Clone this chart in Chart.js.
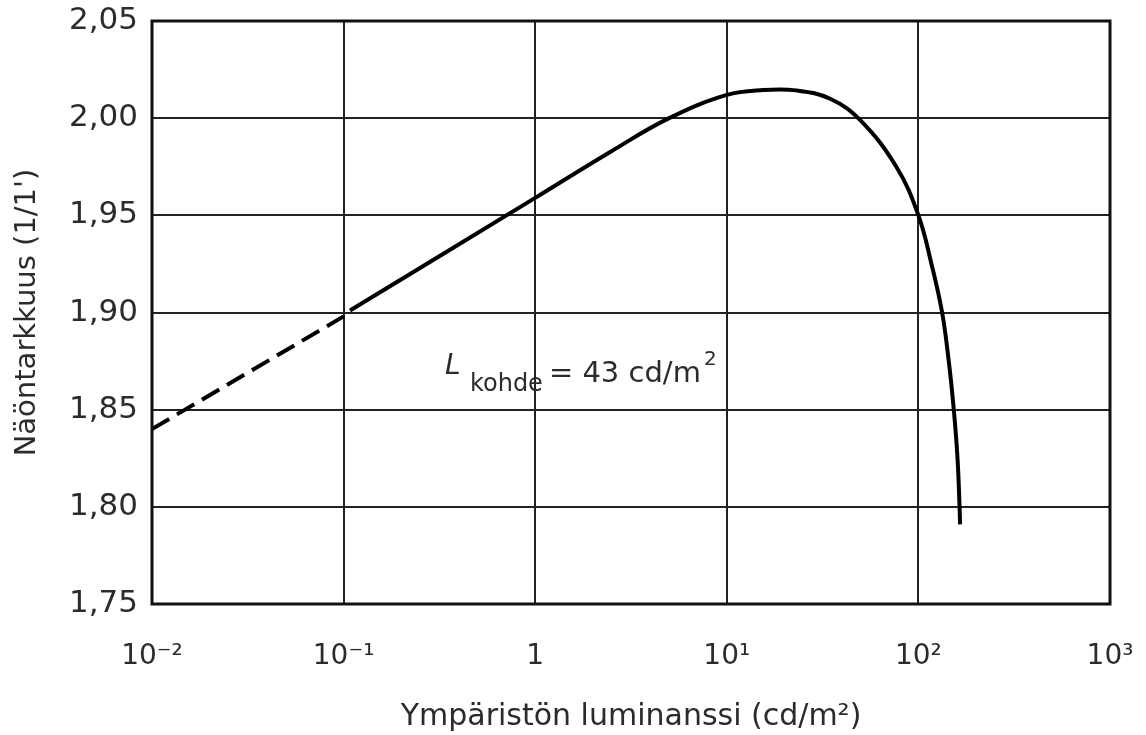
<!DOCTYPE html>
<html>
<head>
<meta charset="utf-8">
<script src="https://cdn.jsdelivr.net/npm/chart.js@4"></script>
<style>
  html, body { margin: 0; padding: 0; background: #fff; }
  #wrap { width: 1146px; height: 735px; }
</style>
</head>
<body>
<div id="wrap"><canvas id="chart" width="1146" height="735"></canvas></div>
<script>
// arvot luettu kuvasta
const dashedX = [0.01, 0.1];
const dashedY = [1.84, 1.898];

const solidX = [0.108, 1, 2.5, 5, 10, 15.5, 23, 34.6, 49.7, 76.7, 100, 117, 133, 144, 153, 160, 164, 165];
const solidY = [1.901, 1.959, 1.983, 2.000, 2.012, 2.0145, 2.0143, 2.010, 1.999, 1.975, 1.95, 1.925, 1.90, 1.875, 1.85, 1.825, 1.80, 1.791];

const xTicks = [0.01, 0.1, 1, 10, 100, 1000];
const xTickLabels = ['10⁻²', '10⁻¹', '1', '10¹', '10²', '10³'];
const yTicks = [1.75, 1.80, 1.85, 1.90, 1.95, 2.00, 2.05];

const yTitle = "Näöntarkkuus (1/1')";
const xTitle = 'Ympäristön luminanssi (cd/m²)';

// L_kohde = 43 cd/m²
const noteParts = ['L', 'kohde', '= 43 cd/m', '2'];
const noteAt = { x: 0.338, y: 1.8682 };

const fontFamily = '"DejaVu Sans", "Liberation Sans", sans-serif';
const textColor = '#2b2b2b';

function pairs(xs, ys) {
    return xs.map((x, i) => ({ x: x, y: ys[i] }));
}

const framePlugin = {
    id: 'frame',
    afterDatasetsDraw(chart) {
        const { ctx, chartArea: a } = chart;
        ctx.save();
        ctx.strokeStyle = '#111';
        ctx.lineWidth = 3;
        ctx.strokeRect(a.left, a.top, a.right - a.left, a.bottom - a.top);
        ctx.restore();
    }
};

const notePlugin = {
    id: 'note',
    afterDatasetsDraw(chart) {
        const { ctx } = chart;
        const px = chart.scales.x.getPixelForValue(noteAt.x);
        const py = chart.scales.y.getPixelForValue(noteAt.y);
        ctx.save();
        ctx.fillStyle = textColor;
        ctx.textBaseline = 'alphabetic';
        ctx.textAlign = 'left';

        ctx.font = 'italic 28px ' + fontFamily;
        ctx.fillText(noteParts[0], px, py);

        ctx.font = '24px ' + fontFamily;
        ctx.fillText(noteParts[1], px + 25, py + 17);
        const kEnd = px + 25 + ctx.measureText(noteParts[1]).width;

        ctx.font = '29px ' + fontFamily;
        ctx.fillText(noteParts[2], kEnd + 6, py + 8);
        const mEnd = kEnd + 6 + ctx.measureText(noteParts[2]).width;

        ctx.font = '20px ' + fontFamily;
        ctx.fillText(noteParts[3], mEnd + 3, py - 9);
        ctx.restore();
    }
};

const ctx = document.getElementById('chart').getContext('2d');
new Chart(ctx, {
    type: 'line',
    data: {
        datasets: [
            {
                label: 'katkoviiva',
                data: pairs(dashedX, dashedY),
                borderColor: '#000',
                borderWidth: 4,
                borderDash: [20, 9],
                pointRadius: 0,
                fill: false
            },
            {
                label: 'käyrä',
                data: pairs(solidX, solidY),
                borderColor: '#000',
                borderWidth: 4,
                pointRadius: 0,
                tension: 0.4,
                fill: false
            }
        ]
    },
    options: {
        responsive: false,
        animation: false,
        layout: { padding: { top: 21, right: 36, left: 0, bottom: 0 } },
        plugins: {
            legend: { display: false },
            tooltip: { enabled: false }
        },
        scales: {
            x: {
                type: 'logarithmic',
                min: 0.01,
                max: 1000,
                afterBuildTicks: (scale) => {
                    scale.ticks = xTicks.map(v => ({ value: v }));
                },
                afterFit: (scale) => {
                    scale.height = 131;
                    scale.paddingLeft = 0;
                    scale.paddingRight = 0;
                },
                ticks: {
                    autoSkip: false,
                    maxRotation: 0,
                    padding: 36,
                    color: textColor,
                    font: { family: fontFamily, size: 28 },
                    callback: function (value) {
                        const i = xTicks.indexOf(value);
                        return i >= 0 ? xTickLabels[i] : '';
                    }
                },
                grid: { color: '#222', lineWidth: 2, drawTicks: false },
                border: { display: false },
                title: {
                    display: true,
                    text: xTitle,
                    color: textColor,
                    font: { family: fontFamily, size: 30 },
                    padding: { top: 0, bottom: 0 }
                }
            },
            y: {
                min: 1.75,
                max: 2.05,
                afterBuildTicks: (scale) => {
                    scale.ticks = yTicks.map(v => ({ value: v }));
                },
                afterFit: (scale) => {
                    scale.width = 152;
                    scale.paddingTop = 0;
                    scale.paddingBottom = 0;
                },
                ticks: {
                    padding: 14,
                    color: textColor,
                    font: { family: fontFamily, size: 31 },
                    callback: (value) => Number(value).toFixed(2).replace('.', ',')
                },
                grid: { color: '#222', lineWidth: 2, drawTicks: false },
                border: { display: false },
                title: {
                    display: true,
                    text: yTitle,
                    color: textColor,
                    font: { family: fontFamily, size: 29 },
                    padding: { top: 10, bottom: 0 }
                }
            }
        }
    },
    plugins: [framePlugin, notePlugin]
});
</script>
</body>
</html>
